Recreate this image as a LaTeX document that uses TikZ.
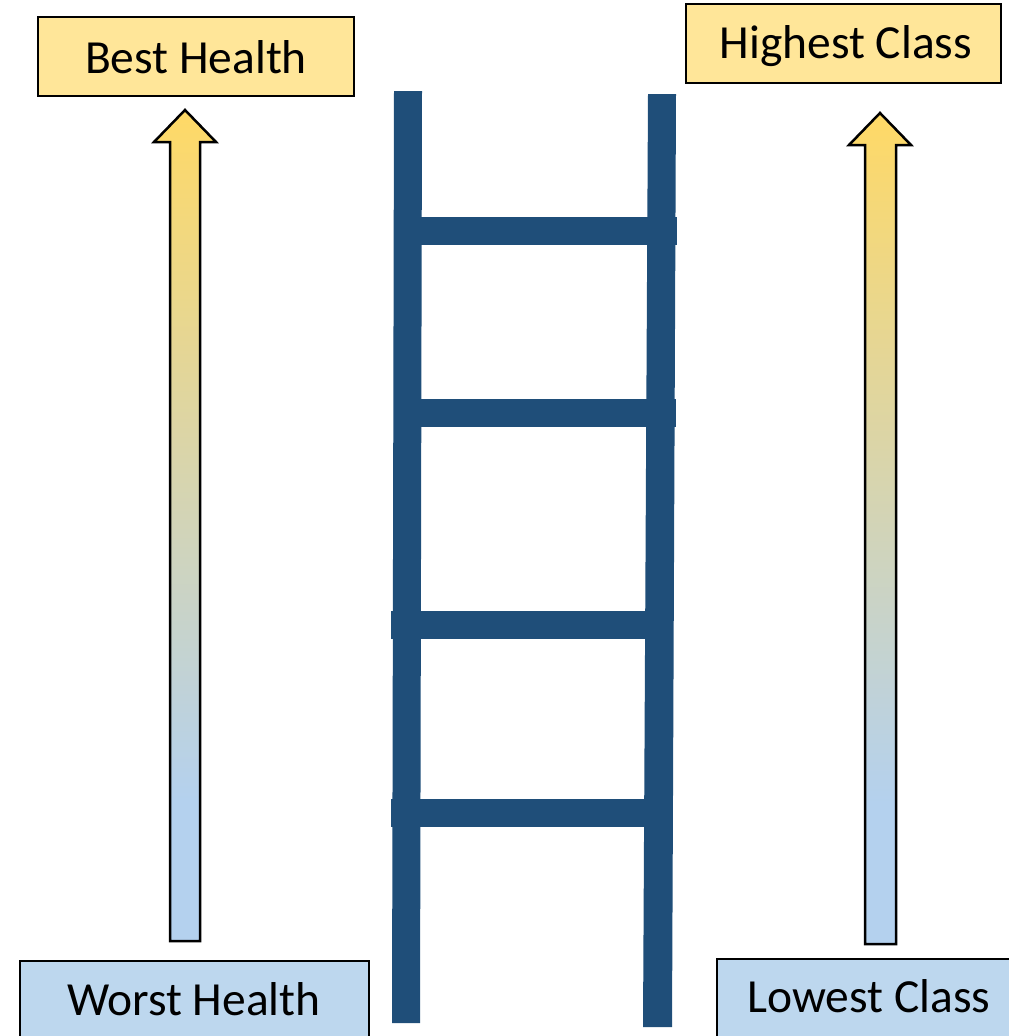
\documentclass[tikz,border=0pt]{standalone}
\usepackage{fontspec}
\setmainfont{Carlito}
\definecolor{boxyellow}{HTML}{FFE699}
\definecolor{boxblue}{HTML}{BDD7EE}
\definecolor{ladderblue}{HTML}{1F4E79}
\definecolor{gradyellow}{HTML}{FFD966}
\definecolor{gradblue}{HTML}{B4D1EE}
% vertical fill for the two arrows: blue at the foot, yellow at the tip
\pgfdeclareverticalshading{risegrad}{100bp}{%
  color(0bp)=(gradblue); color(33.5bp)=(gradblue);
  color(75bp)=(gradyellow); color(100bp)=(gradyellow)}
\tikzset{
  labelbox/.style={draw=black, line width=1.6pt, inner sep=0pt, outer sep=0pt, rectangle},
  labeltext/.style={anchor=base, inner sep=0pt, font=\fontsize{47.5}{50}\selectfont},
  risearrow/.style={draw=black, line width=2.5pt, line join=miter, shading=risegrad},
  ladderpart/.style={fill=ladderblue, draw=none}
}
\begin{document}
\begin{tikzpicture}[x=1pt, y=-1pt]
  \useasboundingbox (0,0) rectangle (1009,1036);
  \clip (0,0) rectangle (1009,1036);

  % label boxes
  \node[labelbox, fill=boxyellow, minimum width=316pt, minimum height=79pt] (best) at (196,56.5) {};
  \node[labeltext] (bestt) at (196,73) {Best Health};
  \node[labelbox, fill=boxyellow, minimum width=315pt, minimum height=79pt] (high) at (843.5,43.5) {};
  \node[labeltext] (hight) at (846,58) {Highest Class};
  \node[labelbox, fill=boxblue, minimum width=349pt, minimum height=90pt] (worst) at (194.5,1006) {};
  \node[labeltext] (worstt) at (194,1015) {Worst Health};
  \node[labelbox, fill=boxblue, minimum width=300pt, minimum height=90pt] (low) at (867,1004) {};
  \node[labeltext] (lowt) at (869,1012) {Lowest Class};

  % rising arrows
  \path[risearrow] (185,110) -- (216,142) -- (200,142) -- (200,941)
    -- (170,941) -- (170,142) -- (154,142) -- cycle;
  \path[risearrow] (880,113) -- (911,145) -- (896,145) -- (896,944)
    -- (865,944) -- (865,145) -- (849,145) -- cycle;

  % ladder rails
  \path[ladderpart] (394,91) -- (422,91) -- (420,1023) -- (392,1023) -- cycle;
  \path[ladderpart] (648,94) -- (676,94) -- (672,1027) -- (643,1027) -- cycle;
  % ladder rungs
  \path[ladderpart] (408,217) rectangle (677,245);
  \path[ladderpart] (408,399) rectangle (676,427);
  \path[ladderpart] (391,611) rectangle (659,639);
  \path[ladderpart] (391,799) rectangle (658,827);
\end{tikzpicture}
\end{document}
